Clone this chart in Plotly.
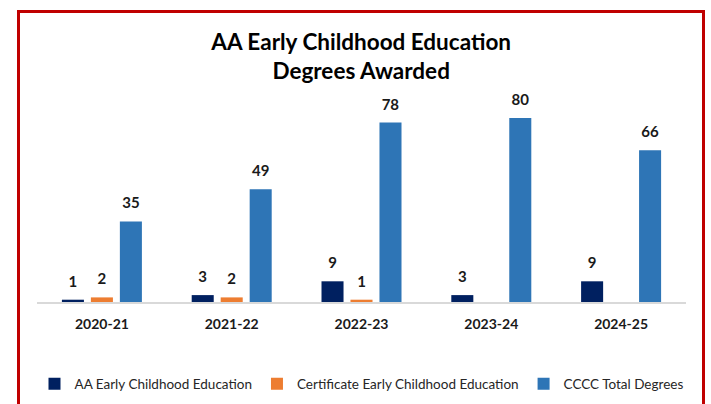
import plotly.graph_objects as go

categories = ["2020-21", "2021-22", "2022-23", "2023-24", "2024-25"]
aa_ece = [1, 3, 9, 3, 9]
cert_ece = [2, 2, 1, 0, 0]
cccc_total = [35, 49, 78, 80, 66]

series = [
    ("AA Early Childhood Education", aa_ece, "#002060"),
    ("Certificate Early Childhood Education", cert_ece, "#ED7D31"),
    ("CCCC Total Degrees", cccc_total, "#2E75B6"),
]

FONT = "Lato, 'Open Sans', sans-serif"

fig = go.Figure()
for name, vals, color in series:
    fig.add_trace(go.Bar(
        x=categories, y=vals, name=name,
        marker=dict(color=color, line=dict(width=0)),
        text=[f"<span style='font-size:15px'>{v}</span><br> " if v else "" for v in vals],
        textposition="outside",
        textfont=dict(family=FONT, size=7, color="#1a1a1a", weight="bold"),
        cliponaxis=False,
    ))

L, R, T, B = 37, 25, 95, 102
PW = 711 - L - R
PH = 404 - T - B

def px_x(px):
    return (px - L) / PW

def px_y(py):
    return (404 - B - py) / PH

fig.update_layout(
    width=711, height=404,
    margin=dict(l=L, r=R, t=T, b=B, autoexpand=False),
    paper_bgcolor="white", plot_bgcolor="white",
    barmode="group", bargap=0.33, bargroupgap=0.24,
    title=dict(
        text="AA Early Childhood Education<br>Degrees Awarded",
        font=dict(family=FONT, size=22.5, color="black", weight="bold"),
        x=0.508, xanchor="center", y=1 - 50 / 404, yanchor="middle",
        yref="container",
    ),
    showlegend=True,
    legend=dict(
        orientation="h", x=0.5, xanchor="center", y=px_y(384), yanchor="middle",
        font=dict(family=FONT, size=13.5, color="#262626"),
        itemwidth=30, traceorder="normal",
    ),
    xaxis=dict(
        showline=True, linecolor="#D9D9D9", linewidth=2, automargin=False,
        ticks="outside", ticklen=8, tickcolor="rgba(0,0,0,0)",
        tickfont=dict(family=FONT, size=14, color="#1a1a1a", weight="bold"),
        showgrid=False,
    ),
    yaxis=dict(range=[0, 90], visible=False, showgrid=False, zeroline=False, automargin=False),
    shapes=[dict(
        type="rect", xref="paper", yref="paper",
        x0=px_x(18.5), x1=px_x(703.5), y0=px_y(420), y1=px_y(11.5),
        line=dict(color="#C00000", width=3), fillcolor="rgba(0,0,0,0)", layer="above",
    )],
)

fig.write_html(
    "out.html",
    config={"displayModeBar": False},
    post_script="document.body.style.margin='0';document.body.style.overflow='hidden';",
)
